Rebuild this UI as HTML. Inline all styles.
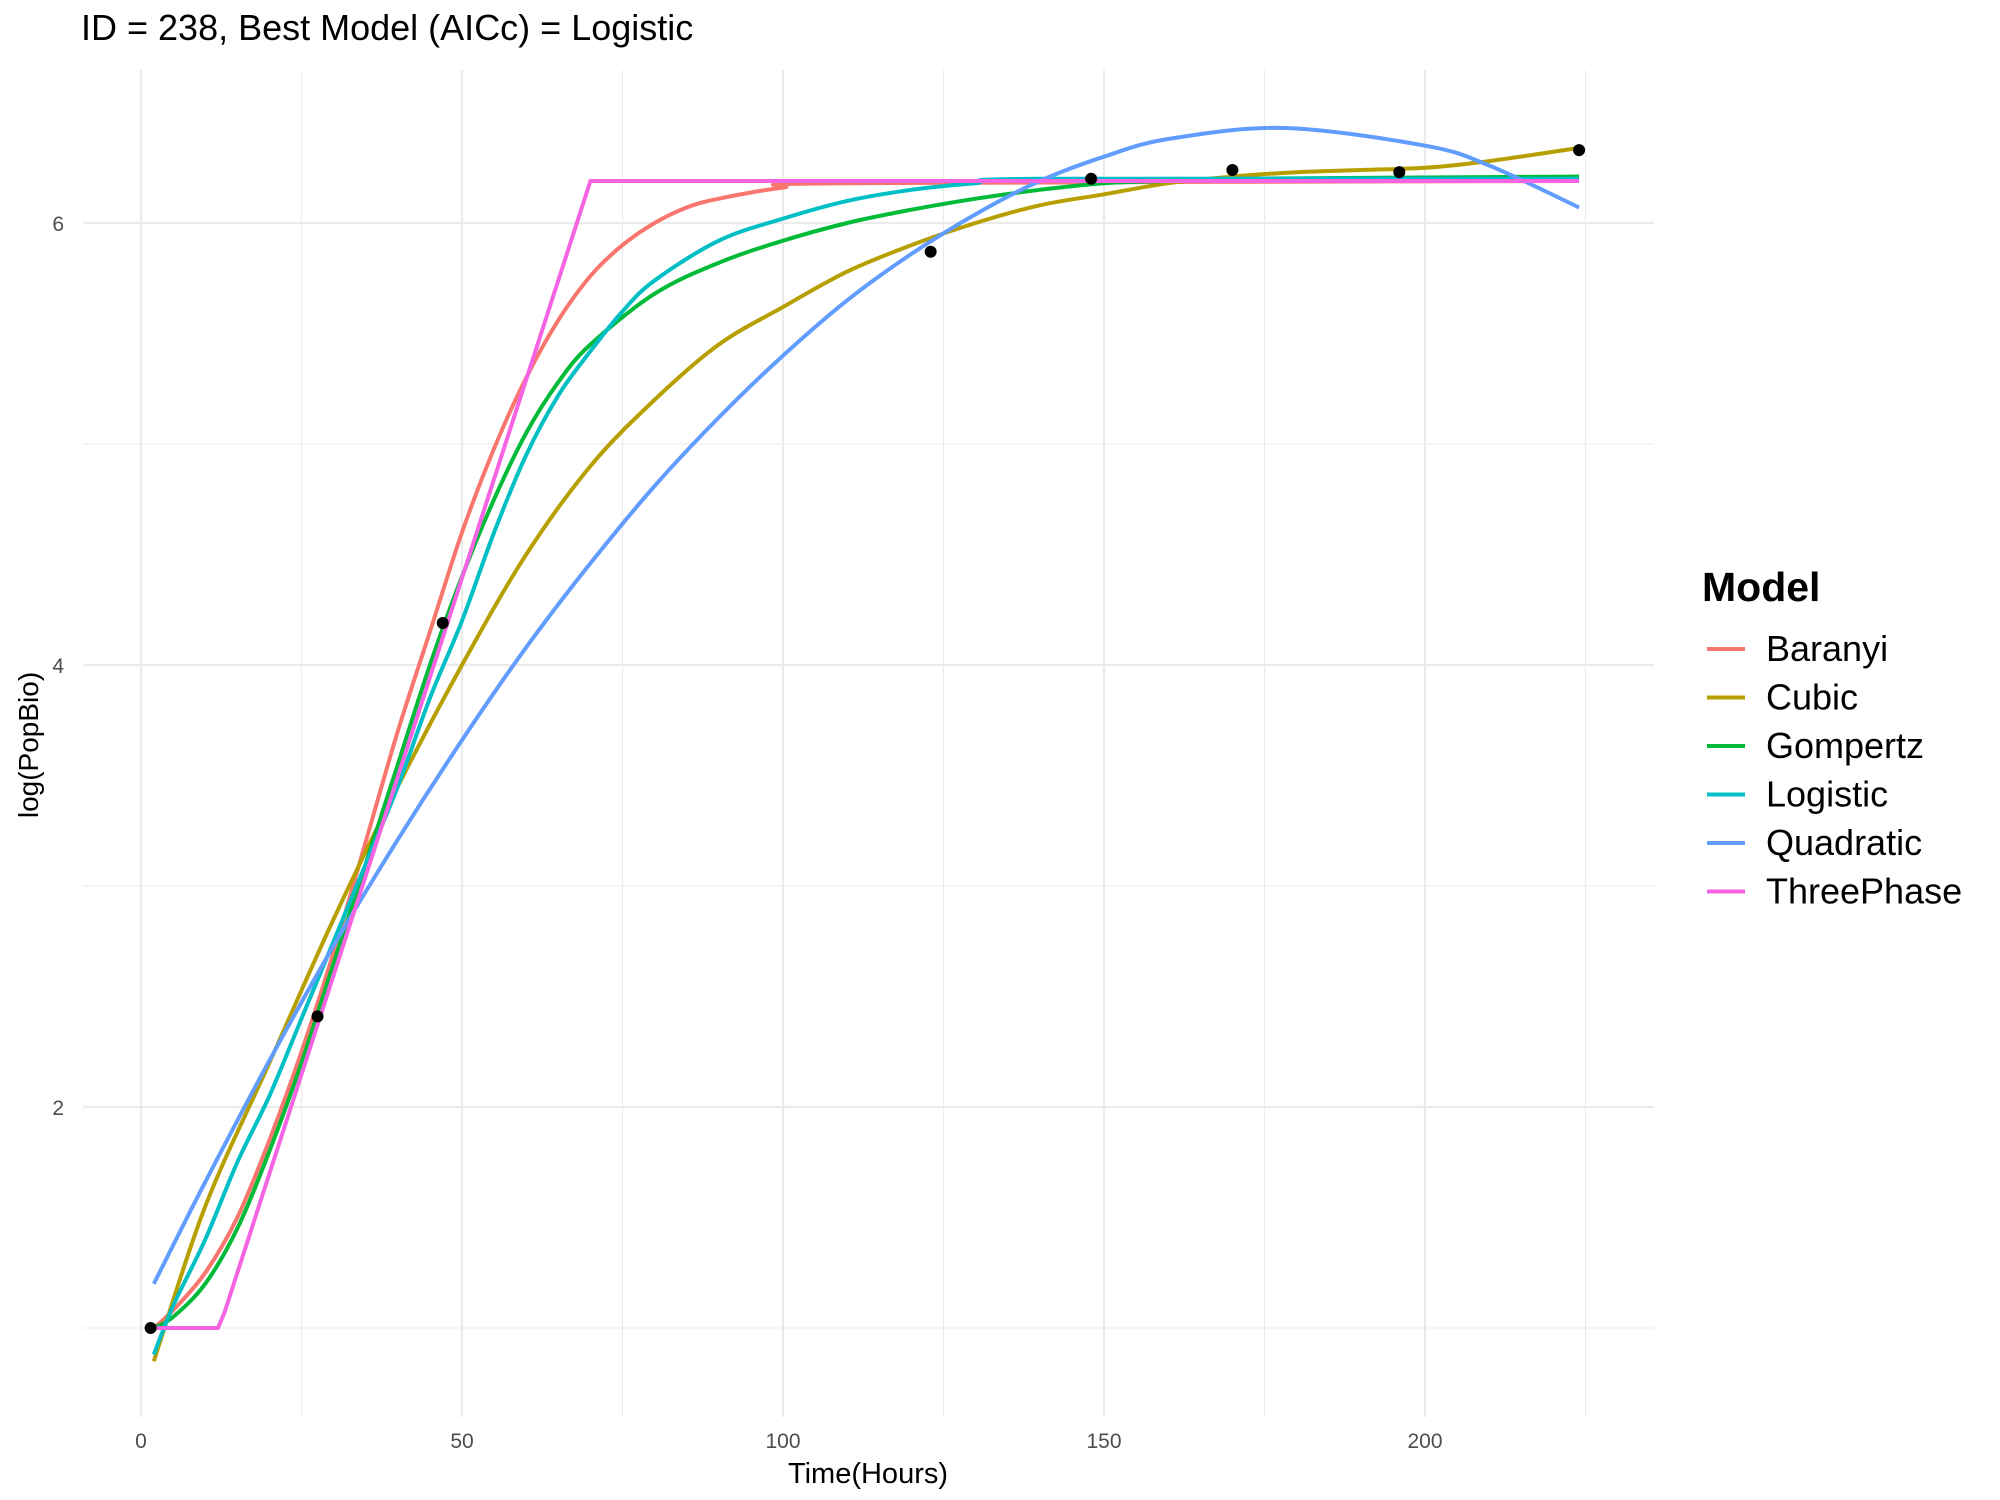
<!DOCTYPE html>
<html><head><meta charset="utf-8"><style>
body{margin:0;background:#fff;}
svg{display:block;font-family:"Liberation Sans",sans-serif;}
</style></head><body>
<svg id="chart" width="2000" height="1500" viewBox="0 0 2000 1500">
<text x="81" y="40" font-size="36" fill="#000">ID = 238, Best Model (AICc) = Logistic</text>
<g id="grid"></g>
<g id="series"></g>
<g id="points"></g>
<g id="axes"></g>
<text x="868" y="1483" font-size="29" text-anchor="middle" fill="#000">Time(Hours)</text>
<text transform="translate(38,745) rotate(-90)" font-size="28" text-anchor="middle" fill="#000">log(PopBio)</text>
<g id="legend">
<text x="1702" y="601" font-size="41" font-weight="bold" fill="#000">Model</text>
</g>
</svg>
<script>
const xTicks=[0,50,100,150,200];
const yTicks=[2,4,6];
const obsT=[1.5,27.5,47,123,148,170,196,224];
const obsV=[1.0,2.41,4.19,5.87,6.2,6.24,6.23,6.33];
const modelNames=["Baranyi","Cubic","Gompertz","Logistic","Quadratic","ThreePhase"];
const modelColors=["#F8766D","#B79F00","#00BA38","#00BFC4","#619CFF","#F564E3"];
const baranyiT=[2,5,10,15,20,25,30,35,40,45,50,55,60,65,70,75,80,85,90,100,110,224];
const baranyiV=[1.0,1.08,1.25,1.5,1.85,2.25,2.7,3.2,3.7,4.15,4.6,4.98,5.3,5.56,5.76,5.9,6.0,6.07,6.11,6.16,6.18,6.19];
const cubicT=[2,10,20,30,40,50,60,70,80,90,100,110,120,130,140,150,160,170,180,190,200,210,224];
const cubicV=[0.85,1.55,2.2,2.85,3.45,4.0,4.5,4.9,5.2,5.45,5.62,5.78,5.9,6.0,6.08,6.13,6.18,6.21,6.23,6.24,6.25,6.28,6.34];
const gompT=[2,5,10,15,20,25,30,35,40,45,50,55,60,65,70,80,90,100,110,120,130,140,150,160,170,224];
const gompV=[1.0,1.05,1.2,1.45,1.8,2.2,2.65,3.1,3.55,4.0,4.4,4.75,5.05,5.28,5.45,5.68,5.82,5.92,6.0,6.06,6.11,6.15,6.18,6.19,6.2,6.21];
const logT=[2,5,10,15,20,25,30,35,40,45,50,55,60,65,70,75,80,90,100,110,120,130,140,224];
const logV=[0.88,1.1,1.4,1.75,2.05,2.4,2.75,3.1,3.45,3.85,4.2,4.6,4.95,5.22,5.42,5.6,5.74,5.92,6.02,6.1,6.15,6.18,6.2,6.2];
const quadT=[2,10,20,30,40,50,60,70,80,90,100,110,120,130,140,150,160,178,200,210,224];
const quadV=[1.2,1.66,2.21,2.73,3.21,3.66,4.08,4.46,4.81,5.12,5.4,5.65,5.86,6.04,6.19,6.3,6.38,6.43,6.35,6.26,6.07];
const threeT=[2,12,13,69,70,224];
const threeV=[1.0,1.0,1.07,6.1,6.19,6.19];
const modelT=[baranyiT,cubicT,gompT,logT,quadT,threeT];
const modelV=[baranyiV,cubicV,gompV,logV,quadV,threeV];

const NS="http://www.w3.org/2000/svg";
const L=83,R=1654,T=70,B=1417;
const xs=t=>141+t*(321/50);
const ys=v=>223+(6-v)*221;
function mk(tag,attrs,parent){const e=document.createElementNS(NS,tag);for(const k in attrs)e.setAttribute(k,attrs[k]);parent.appendChild(e);return e;}
function smooth(px){
  let d='M'+px[0][0].toFixed(1)+','+px[0][1].toFixed(1);
  for(let i=0;i<px.length-1;i++){
    const p0=px[Math.max(0,i-1)],p1=px[i],p2=px[i+1],p3=px[Math.min(px.length-1,i+2)];
    const c1x=p1[0]+(p2[0]-p0[0])/6,c1y=p1[1]+(p2[1]-p0[1])/6;
    const c2x=p2[0]-(p3[0]-p1[0])/6,c2y=p2[1]-(p3[1]-p1[1])/6;
    d+=' C'+c1x.toFixed(1)+','+c1y.toFixed(1)+' '+c2x.toFixed(1)+','+c2y.toFixed(1)+' '+p2[0].toFixed(1)+','+p2[1].toFixed(1);
  }
  return d;
}
const grid=document.getElementById('grid');
for(let t=0;t<=225;t+=25){
  const g=mk('line',{x1:xs(t),x2:xs(t),y1:T,y2:B,stroke:'#ebebeb','stroke-width':t%50===0?2.2:1.1},grid);
  
  
}
for(let v=1;v<=6;v+=1){
  const g=mk('line',{x1:L,x2:R,y1:ys(v),y2:ys(v),stroke:'#ebebeb','stroke-width':v%2===0?2.2:1.1},grid);
  
  
}
const axes=document.getElementById('axes');
xTicks.forEach(t=>{
  const tx=mk('text',{x:xs(t),y:1448,'font-size':21,'text-anchor':'middle',fill:'#4d4d4d'},axes);
  tx.textContent=t;
  
  
});
yTicks.forEach(v=>{
  const tx=mk('text',{x:64,y:ys(v)+8,'font-size':21,'text-anchor':'end',fill:'#4d4d4d'},axes);
  tx.textContent=v;
  
  
});
const ser=document.getElementById('series');
modelNames.forEach((n,i)=>{
  const px=modelT[i].map((t,j)=>[xs(t),ys(modelV[i][j])]);
  const d=n==='ThreePhase'?px.map((p,j)=>(j?'L':'M')+p[0].toFixed(1)+','+p[1].toFixed(1)).join(' '):smooth(px);
  const p=mk('path',{d:d,fill:'none',stroke:modelColors[i],'stroke-width':4,'stroke-linejoin':'round'},ser);
  
  
});
const pts=document.getElementById('points');
obsT.forEach((t,i)=>{
  const c=mk('circle',{cx:xs(t),cy:ys(obsV[i]),r:6,fill:'#000'},pts);
  
  
});
const leg=document.getElementById('legend');
modelNames.forEach((n,i)=>{
  const y=649+i*48.5;
  const g=mk('g',{},leg);
  
  
  mk('line',{x1:1707,x2:1745,y1:y,y2:y,stroke:modelColors[i],'stroke-width':4},g);
  const tx=mk('text',{x:1766,y:y+12,'font-size':36,fill:'#000'},g);
  tx.textContent=n;
});
</script>
</body></html>
